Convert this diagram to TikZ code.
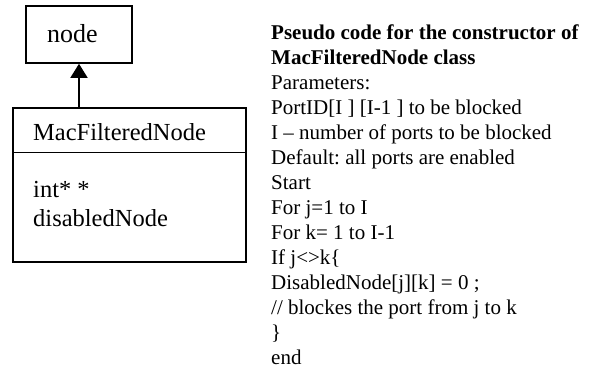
\documentclass[tikz,border=0pt]{standalone}
\usepackage{fontspec}
\setmainfont{Liberation Serif}
\usetikzlibrary{arrows.meta}
\frenchspacing

\tikzset{
  umlbox/.style={draw=black, line width=1.6bp, fill=white, inner sep=0pt},
  classtext/.style={anchor=base west, inner sep=0pt, font=\fontsize{24.5bp}{29bp}\selectfont},
  parenttext/.style={anchor=base west, inner sep=0pt, font=\fontsize{26bp}{30bp}\selectfont},
  codetext/.style={anchor=north west, inner sep=0pt, align=left,
    font=\fontsize{21bp}{25bp}\selectfont},
  inherit/.style={line width=1.6bp, -{Triangle[length=14bp,width=17bp]}}
}

\begin{document}
\begin{tikzpicture}[x=1bp, y=-1bp]
  \useasboundingbox[fill=white] (0,0) rectangle (591,372);

  % parent class
  \node[umlbox, minimum width=106bp, minimum height=57bp] (parent) at (79,34.5) {};
  \node[parenttext] (parentname) at (47,42) {node};

  % derived class with its attribute compartment
  \node[umlbox, minimum width=233bp, minimum height=154bp] (cls) at (129.5,185) {};
  \coordinate (divl) at (13,152.5);
  \coordinate (divr) at (246,152.5);
  \draw[line width=1.6bp] (divl) -- (divr);
  \node[classtext] (clsname) at (33,140) {MacFilteredNode};
  \node[classtext] (attr1) at (33,197) {int* *};
  \node[classtext] (attr2) at (33,226) {disabledNode};

  % generalisation arrow
  \draw[inherit] (parent.south |- cls.north) -- (parent.south);

  % constructor pseudo code
  \node[codetext] (code) at (271,24.5) {%
    \textbf{Pseudo code for the constructor of}\\
    \textbf{MacFilteredNode class}\\
    Parameters:\\
    PortID[I ] [I-1 ] to be blocked\\
    I -- number of ports to be blocked\\
    Default: all ports are enabled\\
    Start\\
    For j=1 to I\\
    For k= 1 to I-1\\
    If j<>k\{\\
    DisabledNode[j][k] = 0 ;\\
    // blockes the port from j to k\\
    \}\\
    end};
\end{tikzpicture}
\end{document}
